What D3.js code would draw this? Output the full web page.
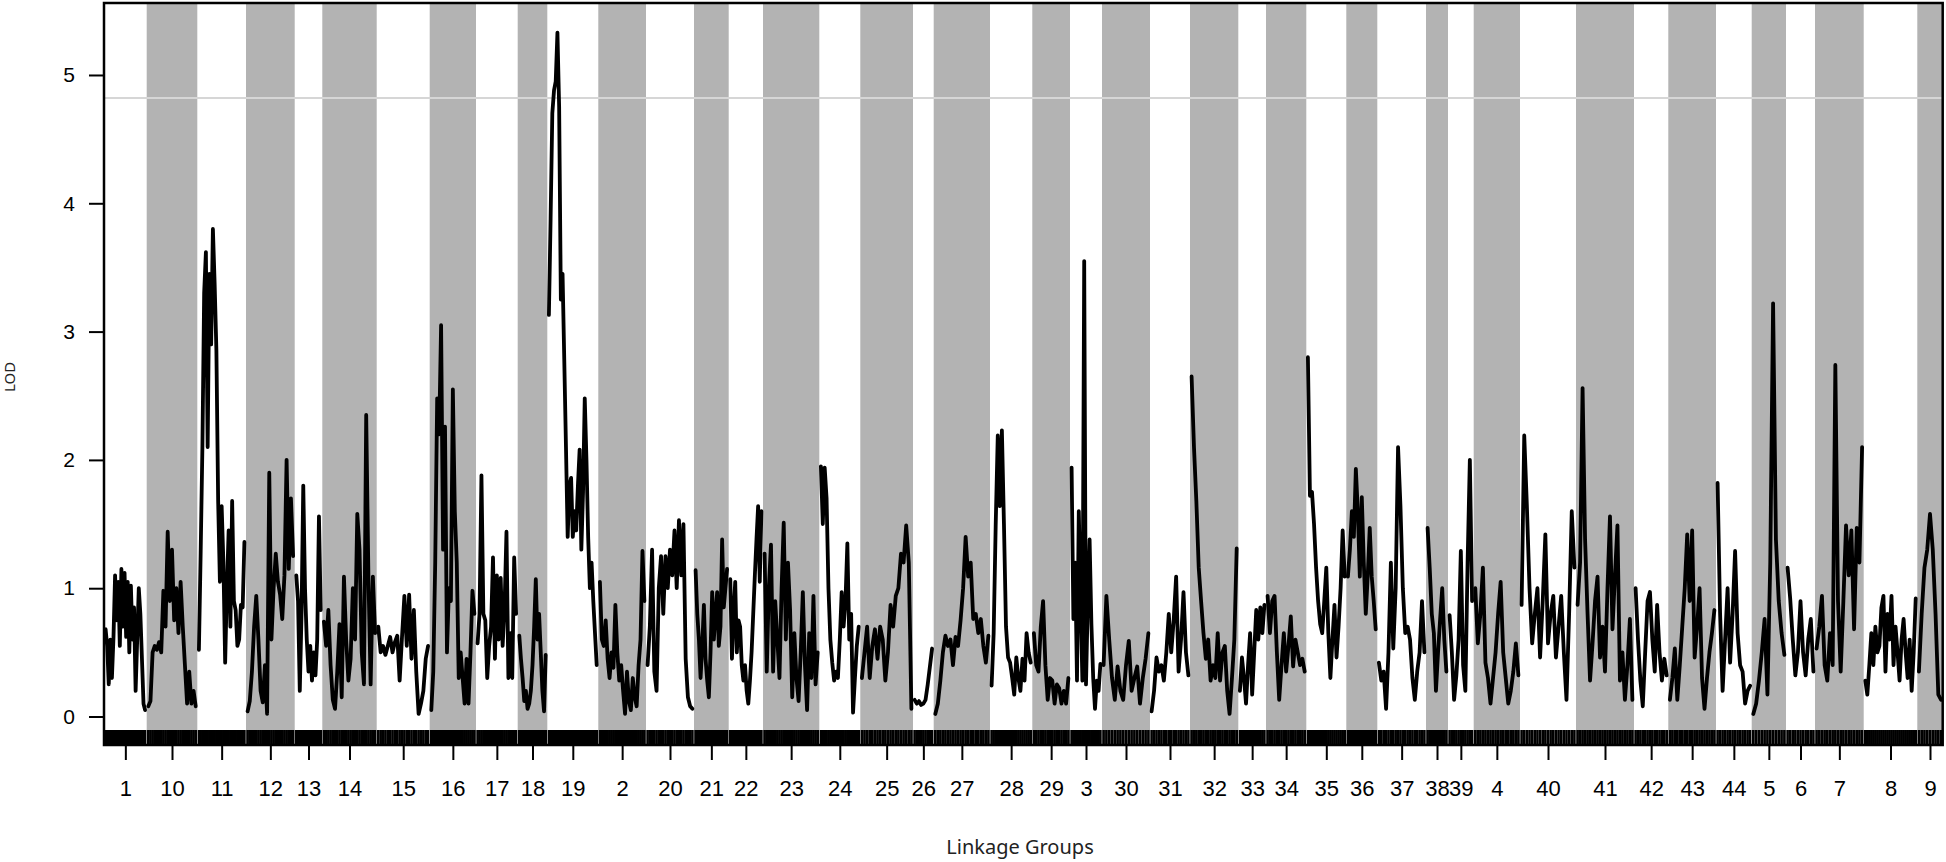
<!DOCTYPE html>
<html>
<head>
<meta charset="utf-8">
<script src="https://cdn.jsdelivr.net/npm/d3@7"></script>
<style>
  body { margin: 0; background: #fff; }
  svg { display: block; }
</style>
</head>
<body>
<div id="chart"></div>
<script>
// linkage groups in plot order
const chrNames = ["1","10","11","12","13","14","15","16","17","18","19","2","20","21","22","23","24","25","26","27","28","29","3","30","31","32","33","34","35","36","37","38","39","4","40","41","42","43","44","5","6","7","8","9"];

// group lengths (cM, incl. gap)
const chrLength = [42.7,50.6,48.7,48.7,27.6,54.4,53.0,46.3,41.7,29.6,51.0,47.7,48.0,34.7,34.3,56.3,41.0,52.7,20.7,56.3,42.3,37.7,32.0,48.0,40.0,48.3,27.7,40.3,40.0,31.0,48.7,22.0,25.7,46.3,56.0,58.0,34.3,47.7,35.7,34.3,29.0,48.7,53.6,25.4];

// LOD along each group (evenly spaced scan positions), same order as chrNames
const lodScan = [
  [0.68,0.55,0.25,0.6,0.3,0.62,1.1,0.75,1.05,0.55,1.15,0.7,1.12,0.62,1.05,0.5,1.02,0.6,0.85,0.2,0.6,1.0,0.8,0.45,0.1,0.05], // 1
  [0.08,0.12,0.5,0.55,0.52,0.58,0.5,0.98,0.7,1.44,0.9,1.3,0.75,1.0,0.65,1.05,0.7,0.4,0.1,0.35,0.1,0.2,0.08], // 10
  [0.52,1.27,2.1,3.3,3.62,2.1,3.45,2.9,3.8,3.37,2.85,1.68,1.05,1.64,1.2,0.42,1.0,1.45,0.7,1.68,0.9,0.83,0.55,0.6,0.87,0.85,1.36], // 11
  [0.04,0.12,0.35,0.7,0.94,0.6,0.2,0.11,0.4,0.02,1.9,0.6,1.0,1.27,1.05,0.95,0.76,1.1,2.0,1.15,1.7,1.25], // 12
  [1.1,0.9,0.2,0.8,1.8,1.0,0.6,0.35,0.55,0.28,0.5,0.32,0.6,1.56,0.83], // 13
  [0.74,0.55,0.83,0.4,0.13,0.06,0.35,0.72,0.15,1.09,0.6,0.28,0.45,1.0,0.6,1.58,1.3,0.5,0.25,2.35,1.09,0.25,1.09,0.65], // 14
  [0.7,0.5,0.55,0.48,0.55,0.62,0.5,0.58,0.63,0.28,0.62,0.94,0.55,0.95,0.45,0.83,0.35,0.02,0.1,0.2,0.45,0.55], // 15
  [0.05,0.35,1.2,2.48,2.2,3.05,1.3,2.26,0.5,1.0,0.9,2.55,1.6,1.2,0.3,0.5,0.3,0.1,0.45,0.1,0.5,0.98,0.8], // 16
  [0.57,0.8,1.88,0.8,0.75,0.3,0.55,0.7,1.24,0.45,1.1,0.6,1.08,0.55,0.85,1.44,0.3,0.65,0.3,1.24,0.8], // 17
  [0.63,0.45,0.3,0.12,0.2,0.06,0.1,0.2,0.4,0.7,1.07,0.6,0.8,0.5,0.2,0.04,0.48], // 18
  [3.13,3.88,4.7,4.88,4.95,5.33,4.75,3.25,3.45,2.78,2.1,1.4,1.8,1.86,1.4,1.6,1.45,1.8,2.08,1.3,1.75,2.48,2.0,1.4,1.0,1.2,0.9,0.65,0.4], // 19
  [1.05,0.6,0.55,0.75,0.45,0.3,0.5,0.38,0.87,0.5,0.28,0.4,0.2,0.02,0.35,0.12,0.05,0.3,0.15,0.08,0.4,0.6,1.29,0.9], // 2
  [0.4,0.7,1.3,0.35,0.2,1.0,1.25,0.8,1.25,1.0,1.3,1.1,1.45,1.0,1.53,1.1,1.5,0.45,0.15,0.08,0.06], // 20
  [1.14,0.8,0.6,0.3,0.55,0.87,0.45,0.28,0.15,0.5,0.97,0.6,0.8,0.97,0.55,0.7,1.38,0.85,1.0,1.15], // 21
  [1.07,0.45,0.8,1.05,0.5,0.75,0.7,0.4,0.28,0.4,0.2,0.1,0.28,0.5,0.8,1.1,1.38,1.64,1.05,1.6], // 22
  [1.27,0.35,1.0,1.34,0.35,0.9,0.6,0.3,1.0,1.51,0.6,1.2,0.83,0.15,0.65,0.3,0.12,0.5,0.97,0.4,0.05,0.65,0.3,0.94,0.25,0.5], // 23
  [1.95,1.5,1.94,1.7,1.0,0.6,0.42,0.28,0.35,0.3,0.6,0.97,0.7,0.9,1.35,0.6,0.8,0.03,0.3,0.55,0.7], // 24
  [0.3,0.5,0.7,0.3,0.55,0.68,0.45,0.7,0.6,0.28,0.5,0.87,0.7,0.94,1.0,1.27,1.2,1.49,1.2,0.06], // 25
  [0.13,0.1,0.12,0.09,0.1,0.13,0.25,0.39,0.53], // 26
  [0.02,0.1,0.28,0.5,0.63,0.55,0.6,0.4,0.62,0.55,0.75,1.0,1.4,1.09,1.2,0.76,0.8,0.65,0.76,0.55,0.42,0.63], // 27
  [0.24,0.65,1.5,2.19,1.64,2.23,1.5,0.7,0.46,0.42,0.3,0.17,0.46,0.3,0.2,0.45,0.28,0.65,0.5,0.42], // 28
  [0.65,0.4,0.35,0.7,0.9,0.4,0.13,0.3,0.28,0.1,0.25,0.22,0.1,0.2,0.1,0.3], // 29
  [1.94,0.76,1.2,0.28,1.6,0.9,0.28,3.55,0.25,0.9,1.38,0.72,0.3,0.06,0.28,0.2,0.41], // 3
  [0.4,0.94,0.6,0.3,0.13,0.39,0.2,0.13,0.4,0.59,0.2,0.3,0.39,0.1,0.3,0.45,0.65], // 30
  [0.04,0.2,0.46,0.35,0.4,0.28,0.5,0.8,0.5,0.75,1.09,0.35,0.6,0.97,0.5,0.32], // 31
  [2.65,2.1,1.68,1.16,0.9,0.65,0.45,0.6,0.28,0.4,0.3,0.65,0.28,0.5,0.55,0.2,0.02,0.3,0.6,1.31], // 32
  [0.2,0.46,0.3,0.1,0.4,0.65,0.17,0.5,0.83,0.6,0.85,0.65,0.87], // 33
  [0.94,0.65,0.9,0.94,0.5,0.13,0.4,0.65,0.35,0.55,0.78,0.39,0.6,0.5,0.4,0.45,0.35], // 34
  [2.8,1.72,1.75,1.5,1.16,0.9,0.72,0.65,0.9,1.16,0.65,0.3,0.6,0.87,0.46,0.7,1.0,1.45,1.09], // 35
  [1.09,1.3,1.6,1.4,1.93,1.6,1.09,1.71,1.2,0.8,1.1,1.47,1.09,0.9,0.68], // 36
  [0.42,0.28,0.35,0.06,0.5,1.2,0.53,1.0,2.1,1.64,1.0,0.65,0.7,0.6,0.3,0.13,0.35,0.5,0.9,0.5], // 37
  [1.47,1.16,0.8,0.65,0.2,0.5,0.76,1.0,0.6,0.35], // 38
  [0.79,0.5,0.13,0.32,0.6,1.29,0.4,0.2,1.2,2.0,0.9], // 39
  [1.0,0.57,0.8,1.16,0.42,0.3,0.1,0.3,0.5,0.8,1.05,0.5,0.3,0.1,0.2,0.35,0.57,0.32], // 4
  [0.87,2.19,1.64,1.0,0.57,0.8,1.0,0.46,0.9,1.42,0.57,0.8,0.94,0.46,0.7,0.94,0.5,0.13,0.8,1.6,1.16], // 40
  [0.87,1.2,2.56,1.38,0.8,0.28,0.57,0.9,1.09,0.46,0.7,0.35,1.0,1.56,0.68,1.1,1.49,0.28,0.5,0.13,0.4,0.76,0.13], // 41
  [1.0,0.6,0.28,0.08,0.5,0.9,0.97,0.6,0.35,0.87,0.5,0.28,0.45,0.32], // 42
  [0.13,0.3,0.53,0.13,0.4,0.7,1.0,1.42,0.9,1.45,0.46,0.7,1.0,0.3,0.06,0.3,0.5,0.65,0.83], // 43
  [1.82,0.8,0.2,0.6,1.0,0.42,0.8,1.29,0.65,0.4,0.35,0.1,0.2,0.24], // 44
  [0.02,0.1,0.28,0.5,0.76,0.17,1.2,3.22,1.38,0.9,0.65,0.48], // 5
  [1.16,0.92,0.6,0.32,0.5,0.9,0.5,0.32,0.6,0.76,0.35], // 6
  [0.53,0.7,0.94,0.4,0.28,0.65,0.4,2.74,0.9,0.35,0.9,1.49,1.1,1.45,0.68,1.47,1.2,2.1], // 7
  [0.28,0.17,0.4,0.65,0.4,0.7,0.5,0.55,0.85,0.94,0.35,0.8,0.6,0.94,0.4,0.7,0.5,0.28,0.6,0.76,0.5,0.3,0.6,0.2,0.5,0.92], // 8
  [0.35,0.8,1.16,1.3,1.58,1.3,0.8,0.17,0.13] // 9
];

const yTicks = [0, 1, 2, 3, 4, 5];
const threshold = 4.82;

drawChart();

function drawChart() {
  const width = 1946;
  const height = 862;
  const margin = { left: 104, top: 3, right: 3.3, bottom: 117 };
  const innerWidth = width - margin.left - margin.right;
  const innerHeight = height - margin.top - margin.bottom;

  const svg = d3.select("#chart").append("svg")
    .attr("width", width)
    .attr("height", height);
  const g = svg.append("g")
    .attr("transform", `translate(${margin.left},${margin.top})`);

  // start of each group along the genome
  const starts = [];
  let acc = 0;
  chrLength.forEach((len) => { starts.push(acc); acc += len; });
  const total = acc;

  const x = d3.scaleLinear().domain([0, total]).range([0, innerWidth]);
  const y = d3.scaleLinear().domain([-0.222, 5.561]).range([innerHeight, 0]);

  // alternate shaded bands
  g.selectAll(".band")
    .data(chrNames.map((d, i) => ({ name: d, i })).filter((d) => d.i % 2 === 1))
    .join("rect")
    .attr("class", "band")
    .attr("x", (d) => x(starts[d.i]))
    .attr("width", (d) => x(starts[d.i] + chrLength[d.i]) - x(starts[d.i]))
    .attr("y", 0)
    .attr("height", innerHeight)
    .attr("fill", "#b3b3b3");

  // threshold line
  g.append("line")
    .attr("x1", 0).attr("x2", innerWidth)
    .attr("y1", y(threshold)).attr("y2", y(threshold))
    .attr("stroke", "#d6d6d6")
    .attr("stroke-width", 2);

  const pad = 1.6;
  const scan = lodScan.map((vals, i) => {
    const len = chrLength[i] - 2 * pad;
    return vals.map((v, j) => ({
      pos: starts[i] + pad + (vals.length > 1 ? (j / (vals.length - 1)) * len : len / 2),
      lod: v
    }));
  });

  // marker rug
  const rugTop = innerHeight - 15;
  g.append("g")
    .selectAll("line")
    .data(scan.flat())
    .join("line")
    .attr("x1", (d) => x(d.pos)).attr("x2", (d) => x(d.pos))
    .attr("y1", rugTop).attr("y2", innerHeight)
    .attr("stroke", "#000")
    .attr("stroke-width", 2.6);

  const line = d3.line()
    .x((d) => x(d.pos))
    .y((d) => y(d.lod));

  g.append("g")
    .selectAll("path")
    .data(scan)
    .join("path")
    .attr("d", line)
    .attr("fill", "none")
    .attr("stroke", "#000")
    .attr("stroke-width", 3.8)
    .attr("stroke-linejoin", "round")
    .attr("stroke-linecap", "round");

  // box
  g.append("rect")
    .attr("x", 0).attr("y", 0)
    .attr("width", innerWidth).attr("height", innerHeight)
    .attr("fill", "none")
    .attr("stroke", "#000")
    .attr("stroke-width", 2.5);

  // y axis
  const yAxis = d3.axisLeft(y).tickValues(yTicks).tickSize(15).tickPadding(14).tickFormat(d3.format("d"));
  const yG = g.append("g").call(yAxis);
  yG.select(".domain").remove();
  yG.selectAll("line").attr("stroke-width", 2);
  yG.selectAll("text")
    .style("font-family", "'Liberation Sans', Arial, sans-serif")
    .style("font-size", "21px")
    .attr("fill", "#000");

  // x axis at group centres
  const centers = chrNames.map((d, i) => starts[i] + chrLength[i] / 2);
  const xAxis = d3.axisBottom(x).tickValues(centers).tickSize(15).tickPadding(20)
    .tickFormat((d, i) => chrNames[i]);
  const xG = g.append("g")
    .attr("transform", `translate(0,${innerHeight})`)
    .call(xAxis);
  xG.select(".domain").remove();
  xG.selectAll("line").attr("stroke-width", 2);
  xG.selectAll("text")
    .style("font-family", "'Liberation Sans', Arial, sans-serif")
    .style("font-size", "22px")
    .attr("fill", "#000");

  // axis titles
  svg.append("text")
    .attr("transform", `translate(9,377) rotate(-90)`)
    .attr("text-anchor", "middle")
    .attr("dominant-baseline", "central")
    .style("font-family", "'Noto Sans', 'Open Sans', sans-serif")
    .style("font-size", "15px")
    .attr("fill", "#222")
    .text("LOD");

  svg.append("text")
    .attr("x", 1020)
    .attr("y", 854)
    .attr("text-anchor", "middle")
    .style("font-family", "'Noto Sans', 'Open Sans', sans-serif")
    .style("font-size", "20px")
    .attr("fill", "#222")
    .text("Linkage Groups");
}
</script>
</body>
</html>
